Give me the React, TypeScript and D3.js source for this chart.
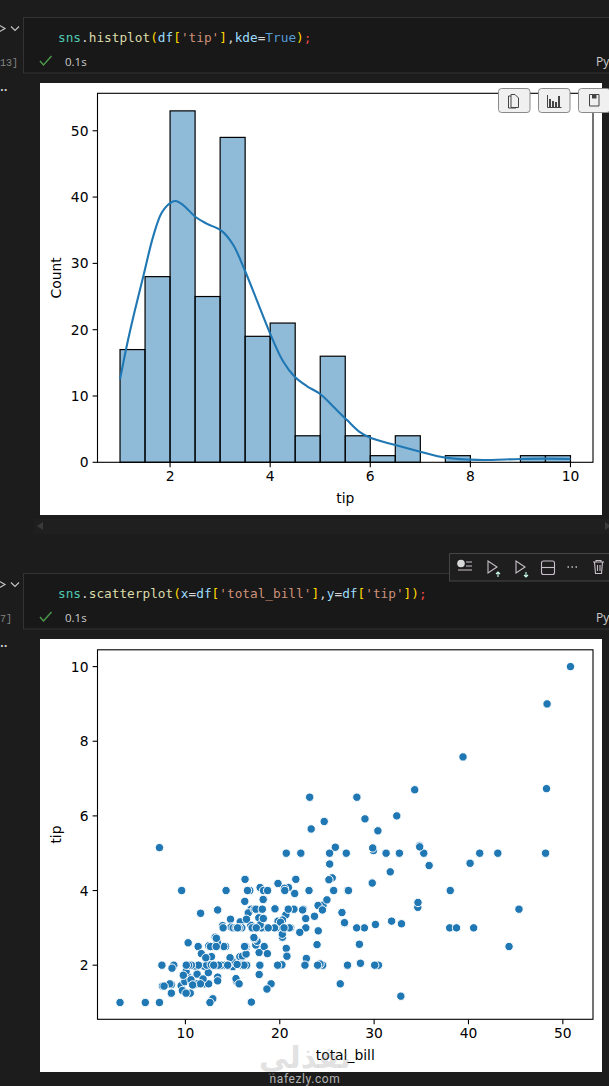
import * as d3 from "d3";

const WIDTH = 609;
const HEIGHT = 1086;

// histogram: bin edges and counts for df['tip']
const binEdges = [1, 1.5, 2, 2.5, 3, 3.5, 4, 4.5, 5, 5.5, 6, 6.5, 7, 7.5, 8, 8.5, 9, 9.5, 10];
const binCounts = [17, 28, 53, 25, 49, 19, 21, 4, 16, 4, 1, 4, 0, 1, 0, 0, 1, 1];

// kde curve, in count units
const kdeX = [1, 1.13, 1.29, 1.47, 1.66, 1.83, 2, 2.11, 2.26, 2.51, 2.73, 3.03, 3.26, 3.49, 3.73, 4, 4.26, 4.49, 4.73, 5, 5.26, 5.53, 5.8, 6, 6.5, 7, 7.5, 8, 8.26, 9, 9.5, 10];
const kdeY = [12.5, 17.4, 22.7, 28.2, 34, 37.6, 39.1, 39.4, 38.8, 37, 36, 34.9, 32.8, 29, 24.5, 19.4, 15.2, 12.9, 11.5, 10.3, 8.4, 6.4, 4.5, 3.7, 2.6, 1.6, 0.7, 0.4, 0.35, 0.5, 0.55, 0.5];

// scatter: df['total_bill'] and df['tip']
const totalBill = [
  16.99, 10.34, 21.01, 23.68, 24.59, 25.29, 8.77, 26.88, 15.04, 14.78, 10.27, 35.26, 15.42, 18.43, 14.83, 21.58, 10.33, 16.29, 16.97, 20.65,
  17.92, 20.29, 15.77, 39.42, 19.82, 17.81, 13.37, 12.69, 21.7, 19.65, 9.55, 18.35, 15.06, 20.69, 17.78, 24.06, 16.31, 16.93, 18.69, 31.27,
  16.04, 17.46, 13.94, 9.68, 30.4, 18.29, 22.23, 32.4, 28.55, 18.04, 12.54, 10.29, 34.81, 9.94, 25.56, 19.49, 38.01, 26.41, 11.24, 48.27,
  20.29, 13.81, 11.02, 18.29, 17.59, 20.08, 16.45, 3.07, 20.23, 15.01, 12.02, 17.07, 26.86, 25.28, 14.73, 10.51, 17.92, 27.2, 22.76, 17.29,
  19.44, 16.66, 10.07, 32.68, 15.98, 34.83, 13.03, 18.28, 24.71, 21.16, 28.97, 22.49, 5.75, 16.32, 22.75, 40.17, 27.28, 12.03, 21.01, 12.46,
  11.35, 15.38, 44.3, 22.42, 20.92, 15.36, 20.49, 25.21, 18.24, 14.31, 14, 7.25, 38.07, 23.95, 25.71, 17.31, 29.93, 10.65, 12.43, 24.08,
  11.69, 13.42, 14.26, 15.95, 12.48, 29.8, 8.52, 14.52, 11.38, 22.82, 19.08, 20.27, 11.17, 12.26, 18.26, 8.51, 10.33, 14.15, 16, 13.16,
  17.47, 34.3, 41.19, 27.05, 16.43, 8.35, 18.64, 11.87, 9.78, 7.51, 14.07, 13.13, 17.26, 24.55, 19.77, 29.85, 48.17, 25, 13.39, 16.49,
  21.5, 12.66, 16.21, 13.81, 17.51, 24.52, 20.76, 31.71, 10.59, 10.63, 50.81, 15.81, 7.25, 31.85, 16.82, 32.9, 17.89, 14.48, 9.6, 34.63,
  34.65, 23.33, 45.35, 23.17, 40.55, 20.69, 20.9, 30.46, 18.15, 23.1, 15.69, 19.81, 28.44, 15.48, 16.58, 7.56, 10.34, 43.11, 13, 13.51,
  18.71, 12.74, 13, 16.4, 20.53, 16.47, 26.59, 38.73, 24.27, 12.76, 30.06, 25.89, 48.33, 13.27, 28.17, 12.9, 28.15, 11.59, 7.74, 30.14,
  12.16, 13.42, 8.58, 15.98, 13.42, 16.27, 10.09, 20.45, 13.28, 22.12, 24.01, 15.69, 11.61, 10.77, 15.53, 10.07, 12.6, 32.83, 35.83, 29.03,
  27.18, 22.67, 17.82, 18.78,
];
const tip = [
  1.01, 1.66, 3.5, 3.31, 3.61, 4.71, 2, 3.12, 1.96, 3.23, 1.71, 5, 1.57, 3, 3.02, 3.92, 1.67, 3.71, 3.5, 3.35,
  4.08, 2.75, 2.23, 7.58, 3.18, 2.34, 2, 2, 4.3, 3, 1.45, 2.5, 3, 2.45, 3.27, 3.6, 2, 3.07, 2.31, 5,
  2.24, 2.54, 3.06, 1.32, 5.6, 3, 5, 6, 2.05, 3, 2.5, 2.6, 5.2, 1.56, 4.34, 3.51, 3, 1.5, 1.76, 6.73,
  3.21, 2, 1.98, 3.76, 2.64, 3.15, 2.47, 1, 2.01, 2.09, 1.97, 3, 3.14, 5, 2.2, 1.25, 3.08, 4, 3, 2.71,
  3, 3.4, 1.83, 5, 2.03, 5.17, 2, 4, 5.85, 3, 3, 3.5, 1, 4.3, 3.25, 4.73, 4, 1.5, 3, 1.5,
  2.5, 3, 2.5, 3.48, 4.08, 1.64, 4.06, 4.29, 3.76, 4, 3, 1, 4, 2.55, 4, 3.5, 5.07, 1.5, 1.8, 2.92,
  2.31, 1.68, 2.5, 2, 2.52, 4.2, 1.48, 2, 2, 2.18, 1.5, 2.83, 1.5, 2, 3.25, 1.25, 2, 2, 2, 2.75,
  3.5, 6.7, 5, 5, 2.3, 1.5, 1.36, 1.63, 1.73, 2, 2.5, 2, 2.74, 2, 2, 5.14, 5, 3.75, 2.61, 2,
  3.5, 2.5, 2, 2, 3, 3.48, 2.24, 4.5, 1.61, 2, 10, 3.16, 5.15, 3.18, 4, 3.11, 2, 2, 4, 3.55,
  3.68, 5.65, 3.5, 6.5, 3, 5, 3.5, 2, 3.5, 4, 1.5, 4.19, 2.56, 2.02, 4, 1.44, 2, 5, 2, 2,
  4, 2.01, 2, 2.5, 4, 3.23, 3.41, 3, 2.03, 2.23, 2, 5.16, 9, 2.5, 6.5, 1.1, 3, 1.5, 1.44, 3.09,
  2.2, 3.48, 1.92, 3, 1.58, 2.5, 2, 3, 2.72, 2.88, 2, 3, 3.39, 1.47, 3, 1.25, 1, 1.17, 4.67, 5.92,
  2, 2, 1.75, 3,
];

const histXTicks = [2, 4, 6, 8, 10];
const histYTicks = [0, 10, 20, 30, 40, 50];
const scatterXTicks = [10, 20, 30, 40, 50];
const scatterYTicks = [2, 4, 6, 8, 10];

const BLUE = "#1f77b4";
const PLOT_FONT = "'DejaVu Sans', sans-serif";
const CODE_FONT = "'DejaVu Sans Mono', monospace";

const YELLOW = "#ffd700";
const histCode: [string, string][] = [
  ["sns", "#4ec9b0"], [".", "#d4d4d4"], ["histplot", "#dcdcaa"], ["(", YELLOW], ["df", "#9cdcfe"], ["[", YELLOW],
  ["'tip'", "#ce9178"], ["]", YELLOW], [",", "#d4d4d4"], ["kde", "#9cdcfe"], ["=", "#d4d4d4"], ["True", "#569cd6"], [")", YELLOW], [";", "#f44747"],
];
const scatterCode: [string, string][] = [
  ["sns", "#4ec9b0"], [".", "#d4d4d4"], ["scatterplot", "#dcdcaa"], ["(", YELLOW], ["x", "#9cdcfe"], ["=", "#d4d4d4"], ["df", "#9cdcfe"], ["[", YELLOW],
  ["'total_bill'", "#ce9178"], ["]", YELLOW], [",", "#d4d4d4"], ["y", "#9cdcfe"], ["=", "#d4d4d4"], ["df", "#9cdcfe"], ["[", YELLOW],
  ["'tip'", "#ce9178"], ["]", YELLOW], [")", YELLOW], [";", "#f44747"],
];

const histX = d3.scaleLinear().domain([0.55, 10.45]).range([97.5, 593]);
const histY = d3.scaleLinear().domain([0, 55.65]).range([462.3, 93.3]);
const scatterX = d3.scaleLinear().domain([0.683, 53.197]).range([97.5, 593]);
const scatterY = d3.scaleLinear().domain([0.55, 10.45]).range([1019.3, 649.8]);

const kdeLine = d3
  .line<number>()
  .curve(d3.curveCatmullRom.alpha(0.5))
  .x((d) => histX(d))
  .y((_, i) => histY(kdeY[i]));

// frame with bottom/left ticks and labels, matplotlib look
function Axes({
  x,
  y,
  xTicks,
  yTicks,
  xLabel,
  yLabel,
}: {
  x: d3.ScaleLinear<number, number>;
  y: d3.ScaleLinear<number, number>;
  xTicks: number[];
  yTicks: number[];
  xLabel: string;
  yLabel: string;
}) {
  const [x0, x1] = x.range();
  const [y0, y1] = y.range();
  return (
    <g fontFamily={PLOT_FONT} fontSize={13.89} fill="#000">
      <rect x={x0} y={y1} width={x1 - x0} height={y0 - y1} fill="none" stroke="#000" strokeWidth={1.1} />
      {xTicks.map((t) => (
        <g key={t} transform={`translate(${x(t)},${y0})`}>
          <line y2={4.9} stroke="#000" strokeWidth={1.1} />
          <text y={19} textAnchor="middle">{t}</text>
        </g>
      ))}
      {yTicks.map((t) => (
        <g key={t} transform={`translate(${x0},${y(t)})`}>
          <line x2={-4.9} stroke="#000" strokeWidth={1.1} />
          <text x={-9} y={5} textAnchor="end">{t}</text>
        </g>
      ))}
      <text x={(x0 + x1) / 2} y={y0 + 41} textAnchor="middle">{xLabel}</text>
      <text transform={`translate(${x0 - 37},${(y0 + y1) / 2}) rotate(-90)`} textAnchor="middle">{yLabel}</text>
    </g>
  );
}

// one notebook cell: code box, status row and gutter marks
function CellChrome({
  top,
  code,
  count,
}: {
  top: number;
  code: [string, string][];
  count: string;
}) {
  return (
    <g>
      <rect x={23.5} y={top + 0.5} width={600} height={55.5} fill="#181818" stroke="#333" />
      <text x={58} y={top + 25} fontFamily={CODE_FONT} fontSize={12.75} xmlSpace="preserve">
        {code.map(([s, c], i) => (
          <tspan key={i} fill={c}>{s}</tspan>
        ))}
      </text>
      <path d={`M40 ${top + 44}l3.5 4l8 -9`} fill="none" stroke="#4c9a4c" strokeWidth={1.4} />
      <text x={65} y={top + 48.5} fontFamily="'Open Sans', sans-serif" fontSize={11.5} fill="#cccccc">0.1s</text>
      <text x={596} y={top + 48.5} fontFamily="'Open Sans', sans-serif" fontSize={12} fill="#cccccc">Py</text>
      <path d={`M-1 ${top + 8}l6 3.5l-6 3.5`} fill="none" stroke="#c5c5c5" strokeWidth={1.2} />
      <path d={`M11 ${top + 9.5}l4 4l4 -4`} fill="none" stroke="#c5c5c5" strokeWidth={1.1} />
      <text x={0} y={top + 49} fontFamily="'Liberation Mono', monospace" fontSize={10} fill="#858585">{count}</text>
      <text x={0} y={top + 74} fontFamily={PLOT_FONT} fontSize={10} fontWeight="bold" fill="#cccccc">..</text>
    </g>
  );
}

function SaveButtons() {
  return (
    <g>
      {[498, 538, 578].map((bx) => (
        <rect key={bx} x={bx + 0.5} y={88.5} width={31.5} height={24} rx={3} fill="#f0f0f0" stroke="#8a8a8a" />
      ))}
      <g fill="none" stroke="#444" strokeWidth={1}>
        <path d="M511 96h-2.500v12h7.500" />
        <path d="M511 94.500h4l3.500 3.500v9.500h-7.500z" />
        <path d="M547.500 95v12.500h14" />
        <path d="M550 107v-8M553 107v-6M556 107v-5M559 107v-11" strokeWidth={2} />
        <path d="M589.500 94.500h9.500v11.500h-9.500z" />
      </g>
      <rect x={592} y={95} width={4.500} height={3.500} fill="#444" />
    </g>
  );
}

function CellToolbar() {
  return (
    <g fill="none" stroke="#c8c0c8" strokeWidth={1.1}>
      <rect x={449.5} y={553.5} width={165} height={27.5} fill="#1e1e1e" stroke="#444" />
      <circle cx={461} cy={563.5} r={3.8} fill="#d8d8d8" stroke="none" />
      <path d="M458 570h14M466 562h6M466 566h6" />
      <path d="M488 561v12l9 -6z" />
      <path d="M498 572v5M496 574l2 -2l2 2" stroke="#cfe" />
      <path d="M516 561v12l9 -6z" />
      <path d="M526 572v5M524 575l2 2l2 -2" stroke="#cfe" />
      <rect x={541.5} y={561} width={13} height={13.500} rx={2} />
      <path d="M541.500 567.500h13" />
      <path d="M567.500 567h1.500M571.500 567h1.500M575.500 567h1.500" strokeWidth={1.5} />
      <path d="M593 562h11M596 562v-1.500h5v1.500M594.500 562l1 11.500h6l1 -11.500M597.500 565v6M600 565v6" />
    </g>
  );
}

export default function App() {
  return (
    <svg
      width={WIDTH}
      height={HEIGHT}
      viewBox={`0 0 ${WIDTH} ${HEIGHT}`}
      style={{ position: "absolute", left: 0, top: 0, display: "block" }}
    >
      <rect width={WIDTH} height={HEIGHT} fill="#1c1c1c" />

      <CellChrome top={17} code={histCode} count="13]" />
      <CellChrome top={573} code={scatterCode} count="7]" />

      {/* histogram */}
      <rect x={40} y={83} width={562} height={432} fill="#fff" />
      {binCounts.map((c, i) =>
        c > 0 ? (
          <rect
            key={i}
            x={histX(binEdges[i])}
            y={histY(c)}
            width={histX(binEdges[i + 1]) - histX(binEdges[i])}
            height={histY(0) - histY(c)}
            fill={BLUE}
            fillOpacity={0.5}
            stroke="#000"
            strokeWidth={1.2}
          />
        ) : null
      )}
      <path d={kdeLine(kdeX) ?? ""} fill="none" stroke={BLUE} strokeWidth={2.1} />
      <Axes x={histX} y={histY} xTicks={histXTicks} yTicks={histYTicks} xLabel="tip" yLabel="Count" />
      <SaveButtons />

      {/* scrollbar under the first output */}
      <rect x={34} y={519} width={575} height={15} fill="#1f1f1f" />
      <path d="M43 522v8l-6 -4z" fill="#3a3a3a" />
      <path d="M605 522v8l6 -4z" fill="#3a3a3a" />

      <CellToolbar />

      {/* scatter */}
      <rect x={40} y={639} width={562} height={433} fill="#fff" />
      <Axes x={scatterX} y={scatterY} xTicks={scatterXTicks} yTicks={scatterYTicks} xLabel="total_bill" yLabel="tip" />
      {totalBill.map((b, i) => (
        <circle key={i} cx={scatterX(b)} cy={scatterY(tip[i])} r={4.2} fill={BLUE} stroke="#fff" strokeWidth={1} />
      ))}

      {/* site watermark */}
      <text x={305} y={1068} textAnchor="middle" fontFamily={PLOT_FONT} fontWeight="bold" fontSize={30} fill="#999" fillOpacity={0.3}>نفذلي</text>
      <text x={305} y={1083} textAnchor="middle" fontFamily="Roboto, sans-serif" fontSize={12} letterSpacing={0.6} fill="#b5b5b5">nafezly.com</text>
    </svg>
  );
}
